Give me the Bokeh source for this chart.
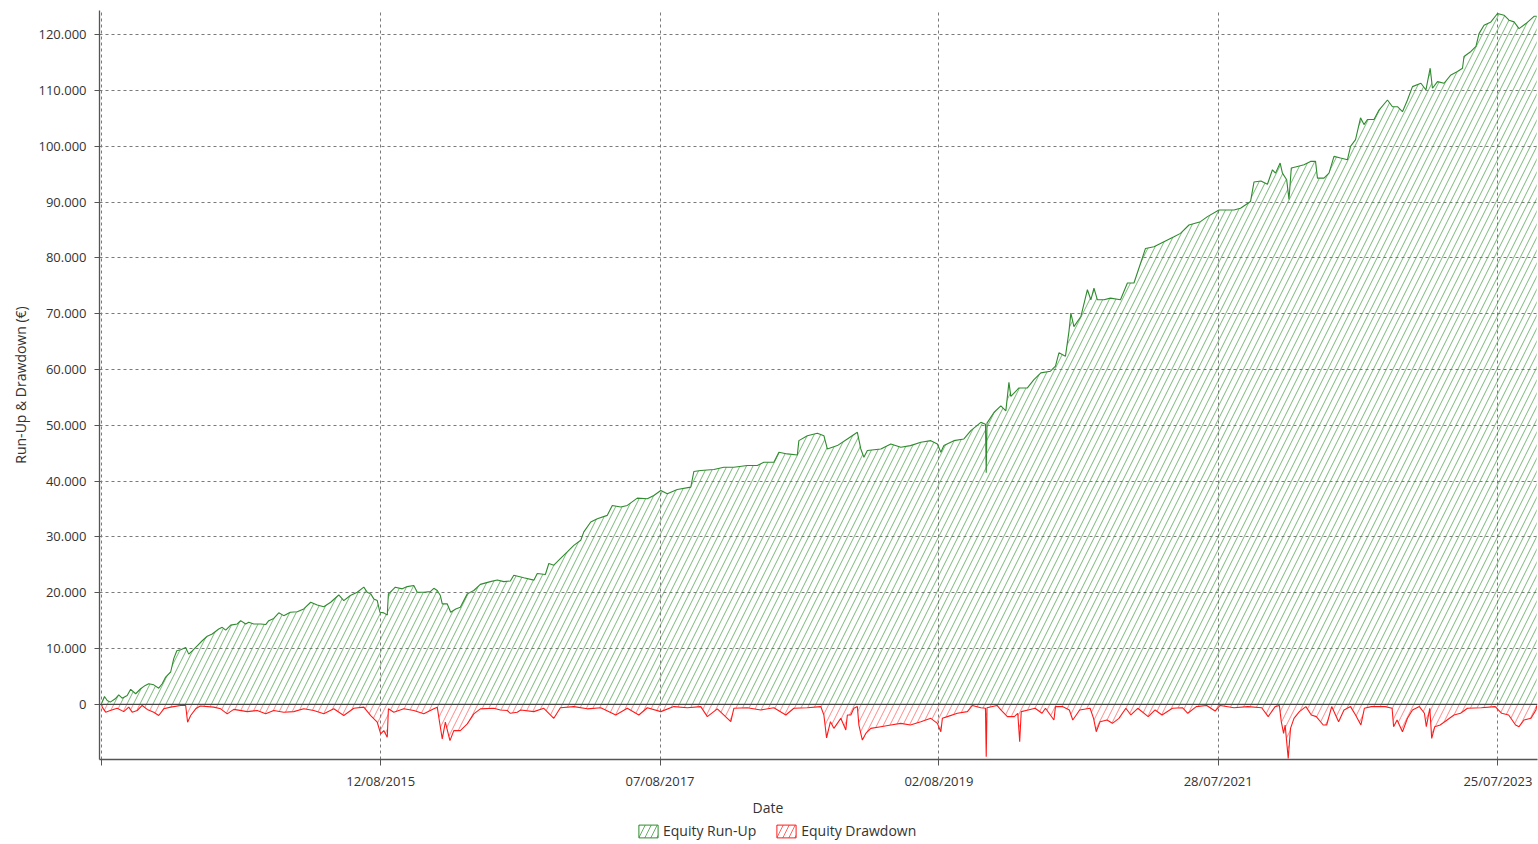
import pandas as pd
from bokeh.plotting import figure
from bokeh.layouts import column
from bokeh.models import (ColumnDataSource, Range1d, FixedTicker, Legend, LegendItem,
                          Span, Title)
from bokeh.embed import file_html
from bokeh.resources import INLINE

# ---------------- data ----------------
runup_dates = [
    "2013-08-17", "2013-08-24", "2013-08-31", "2013-09-08", "2013-09-21", "2013-09-30",
    "2013-10-09", "2013-10-22", "2013-10-31", "2013-11-13", "2013-11-26", "2013-12-08",
    "2013-12-17", "2013-12-30", "2014-01-12", "2014-01-21", "2014-01-30", "2014-02-12",
    "2014-02-20", "2014-02-28", "2014-03-10", "2014-03-23", "2014-03-31", "2014-04-09",
    "2014-04-22", "2014-05-05", "2014-05-18", "2014-05-31", "2014-06-17", "2014-06-26",
    "2014-07-05", "2014-07-18", "2014-08-04", "2014-08-13", "2014-08-26", "2014-09-03",
    "2014-09-16", "2014-10-04", "2014-10-17", "2014-10-25", "2014-11-07", "2014-11-20",
    "2014-12-03", "2014-12-20", "2015-01-07", "2015-01-24", "2015-02-11", "2015-02-28",
    "2015-03-17", "2015-04-04", "2015-04-25", "2015-05-08", "2015-05-25", "2015-06-12",
    "2015-06-29", "2015-07-08", "2015-07-17", "2015-07-25", "2015-08-03", "2015-08-10",
    "2015-08-20", "2015-08-29", "2015-09-01", "2015-09-06", "2015-09-19", "2015-10-07",
    "2015-10-20", "2015-11-06", "2015-11-15", "2015-12-02", "2015-12-19", "2015-12-28",
    "2016-01-06", "2016-01-14", "2016-01-19", "2016-02-01", "2016-02-10", "2016-02-23",
    "2016-03-06", "2016-03-24", "2016-04-10", "2016-04-27", "2016-05-23", "2016-06-10",
    "2016-06-27", "2016-07-14", "2016-07-23", "2016-08-18", "2016-09-13", "2016-09-22",
    "2016-10-13", "2016-10-22", "2016-11-04", "2016-11-21", "2016-12-09", "2016-12-26",
    "2017-01-13", "2017-01-21", "2017-02-08", "2017-02-25", "2017-03-23", "2017-04-05",
    "2017-04-27", "2017-05-14", "2017-06-09", "2017-07-05", "2017-07-22", "2017-08-09",
    "2017-08-26", "2017-09-21", "2017-10-26", "2017-11-03", "2017-11-21", "2017-12-25",
    "2018-01-20", "2018-02-15", "2018-03-22", "2018-04-17", "2018-05-04", "2018-05-30",
    "2018-06-12", "2018-07-04", "2018-07-30", "2018-08-03", "2018-08-25", "2018-09-20",
    "2018-10-07", "2018-10-16", "2018-11-11", "2018-12-07", "2019-01-02", "2019-01-11",
    "2019-01-19", "2019-01-28", "2019-03-04", "2019-03-30", "2019-04-25", "2019-05-20",
    "2019-06-16", "2019-07-12", "2019-07-29", "2019-08-07", "2019-08-15", "2019-09-10",
    "2019-10-06", "2019-10-24", "2019-11-19", "2019-12-01", "2019-12-03", "2019-12-05",
    "2019-12-23", "2020-01-10", "2020-01-23", "2020-01-31", "2020-02-05", "2020-02-26",
    "2020-03-19", "2020-04-05", "2020-04-23", "2020-05-18", "2020-05-31", "2020-06-09",
    "2020-06-26", "2020-07-05", "2020-07-10", "2020-07-18", "2020-08-05", "2020-08-22",
    "2020-08-31", "2020-09-08", "2020-09-17", "2020-10-04", "2020-10-21", "2020-11-16",
    "2020-12-04", "2020-12-21", "2021-01-07", "2021-01-20", "2021-02-11", "2021-03-09",
    "2021-04-04", "2021-04-21", "2021-05-13", "2021-06-12", "2021-06-30", "2021-07-30",
    "2021-08-21", "2021-09-07", "2021-09-24", "2021-10-20", "2021-10-29", "2021-11-16",
    "2021-12-03", "2021-12-16", "2021-12-24", "2022-01-05", "2022-01-11", "2022-01-22",
    "2022-01-28", "2022-02-03", "2022-02-19", "2022-03-08", "2022-03-25", "2022-04-07",
    "2022-04-12", "2022-04-29", "2022-05-12", "2022-05-25", "2022-06-11", "2022-06-29",
    "2022-07-07", "2022-07-20", "2022-08-02", "2022-08-11", "2022-08-20", "2022-09-06",
    "2022-09-19", "2022-10-11", "2022-10-24", "2022-11-06", "2022-11-19", "2022-12-02",
    "2022-12-15", "2023-01-06", "2023-01-19", "2023-01-30", "2023-02-05", "2023-02-18",
    "2023-03-07", "2023-03-25", "2023-04-11", "2023-04-24", "2023-04-28", "2023-05-16",
    "2023-05-29", "2023-06-06", "2023-06-19", "2023-07-07", "2023-07-24", "2023-08-10",
    "2023-08-23", "2023-09-05", "2023-09-18", "2023-10-06", "2023-10-27", "2023-11-03",
]
runup_values = [
    300, 1400, 700, 400, 1000, 1700,
    1100, 1600, 2700, 1900, 2800, 3400,
    3700, 3500, 2900, 3700, 4900, 5800,
    8200, 9600, 9800, 10200, 9000, 9600,
    10500, 11400, 12200, 12600, 13500, 13800,
    13300, 14200, 14400, 15000, 14400, 14700,
    14400, 14400, 14300, 15000, 15400, 16400,
    15900, 16500, 16600, 17100, 18300, 17800,
    17500, 18300, 19600, 18600, 19500, 20100,
    21000, 20100, 19800, 18900, 18600, 16500,
    16400, 16000, 19800, 20100, 21000, 20700,
    21100, 21300, 20100, 20100, 20200, 20800,
    20400, 19500, 18000, 18000, 16500, 17100,
    17400, 19800, 20400, 21500, 22000, 22300,
    22000, 22100, 23150, 22700, 22260, 23450,
    23270, 25240, 24940, 26130, 27320, 28500,
    29400, 30900, 32680, 33270, 33870, 35650,
    35360, 35650, 36960, 36840, 37440, 38330,
    37740, 38510, 38930, 41730, 41900, 42080,
    42500, 42500, 42800, 42800, 43390, 43390,
    45180, 44880, 44700, 47260, 48150, 48570,
    48150, 45770, 46370, 47560, 48750, 45770,
    44290, 45480, 45770, 46670, 46070, 46370,
    46960, 47260, 46670, 45180, 46370, 47260,
    47560, 49050, 50540, 50200, 41500, 50400,
    52300, 53500, 52600, 57700, 55200, 56700,
    56700, 58200, 59400, 59700, 60600, 63000,
    62400, 66800, 70100, 67700, 69500, 74300,
    72500, 74600, 72500, 72500, 72800, 72500,
    75500, 75500, 79000, 81700, 82000, 82900,
    83800, 84400, 85900, 86500, 87400, 88600,
    88600, 88600, 88900, 90100, 93600, 93800,
    93200, 95800, 95200, 97000, 95200, 94000,
    90500, 96100, 96400, 96700, 97300, 97300,
    94300, 94300, 95200, 98200, 97900, 97600,
    100000, 101200, 105100, 103900, 104800, 104800,
    106500, 108300, 107100, 107100, 106200, 108300,
    110700, 111300, 110100, 114000, 110400, 111600,
    111300, 112800, 113400, 114000, 116100, 117000,
    117900, 120200, 121700, 122300, 123800, 123500,
    122600, 122300, 121100, 122000, 123300, 123300,
]

drawdown_dates = [
    "2013-08-17", "2013-08-18", "2013-08-27", "2013-09-08", "2013-09-26", "2013-10-13",
    "2013-10-26", "2013-11-04", "2013-11-17", "2013-11-30", "2013-12-13", "2013-12-30",
    "2014-01-12", "2014-01-25", "2014-02-12", "2014-03-10", "2014-03-23", "2014-03-28",
    "2014-04-05", "2014-04-18", "2014-04-30", "2014-06-04", "2014-06-22", "2014-07-09",
    "2014-07-26", "2014-08-30", "2014-09-25", "2014-10-17", "2014-11-07", "2014-12-03",
    "2014-12-29", "2015-01-24", "2015-02-19", "2015-03-17", "2015-04-12", "2015-05-08",
    "2015-06-03", "2015-06-29", "2015-07-17", "2015-08-03", "2015-08-12", "2015-08-20",
    "2015-08-29", "2015-09-01", "2015-09-15", "2015-10-11", "2015-11-06", "2015-12-02",
    "2015-12-28", "2016-01-06", "2016-01-12", "2016-01-19", "2016-01-27", "2016-02-08",
    "2016-02-18", "2016-03-06", "2016-03-24", "2016-04-10", "2016-04-27", "2016-06-01",
    "2016-06-18", "2016-07-06", "2016-07-14", "2016-08-01", "2016-08-10", "2016-09-13",
    "2016-10-09", "2016-11-04", "2016-11-21", "2016-12-26", "2017-01-30", "2017-03-06",
    "2017-04-14", "2017-05-14", "2017-06-13", "2017-07-05", "2017-08-09", "2017-09-12",
    "2017-10-17", "2017-11-21", "2017-12-08", "2018-01-03", "2018-02-07", "2018-02-15",
    "2018-03-22", "2018-04-26", "2018-05-30", "2018-06-30", "2018-07-21", "2018-08-25",
    "2018-09-29", "2018-10-07", "2018-10-14", "2018-10-24", "2018-11-02", "2018-11-20",
    "2018-12-03", "2018-12-07", "2018-12-16", "2018-12-24", "2019-01-02", "2019-01-06",
    "2019-01-15", "2019-01-24", "2019-02-06", "2019-03-04", "2019-03-30", "2019-04-25",
    "2019-05-20", "2019-06-16", "2019-07-12", "2019-07-29", "2019-08-07", "2019-08-11",
    "2019-08-24", "2019-09-19", "2019-10-15", "2019-10-28", "2019-11-19", "2019-12-01",
    "2019-12-03", "2019-12-05", "2019-12-31", "2020-01-10", "2020-01-27", "2020-02-14",
    "2020-02-23", "2020-02-28", "2020-03-03", "2020-03-21", "2020-04-08", "2020-04-26",
    "2020-05-05", "2020-05-27", "2020-05-31", "2020-06-18", "2020-07-06", "2020-07-15",
    "2020-08-02", "2020-08-29", "2020-09-07", "2020-09-14", "2020-09-24", "2020-10-12",
    "2020-10-26", "2020-11-12", "2020-11-30", "2020-12-13", "2020-12-31", "2021-01-27",
    "2021-02-14", "2021-03-04", "2021-03-31", "2021-04-26", "2021-05-10", "2021-06-01",
    "2021-06-28", "2021-07-20", "2021-08-02", "2021-09-07", "2021-10-13", "2021-11-18",
    "2021-12-05", "2021-12-23", "2022-01-03", "2022-01-08", "2022-01-14", "2022-01-18",
    "2022-01-26", "2022-02-01", "2022-02-10", "2022-02-24", "2022-03-13", "2022-03-27",
    "2022-04-09", "2022-04-27", "2022-05-06", "2022-05-19", "2022-06-06", "2022-06-20",
    "2022-07-07", "2022-07-20", "2022-08-03", "2022-08-12", "2022-08-30", "2022-09-17",
    "2022-10-05", "2022-10-23", "2022-10-27", "2022-11-05", "2022-11-19", "2022-12-02",
    "2022-12-15", "2023-01-02", "2023-01-15", "2023-01-20", "2023-01-29", "2023-02-03",
    "2023-02-11", "2023-02-25", "2023-03-15", "2023-04-02", "2023-04-19", "2023-05-07",
    "2023-06-12", "2023-07-18", "2023-08-04", "2023-08-22", "2023-09-09", "2023-09-18",
    "2023-10-01", "2023-10-19", "2023-11-01", "2023-11-03",
]
drawdown_values = [
    0, -500, -1400, -1100, -700, -1300,
    -500, -1400, -1100, -200, -900, -1400,
    -2000, -800, -500, -200, -200, -3200,
    -2000, -800, -300, -500, -800, -1700,
    -900, -1300, -1100, -1700, -1100, -1400,
    -1300, -800, -1100, -1700, -800, -2000,
    -700, -500, -2000, -3200, -5300, -4700,
    -5900, -800, -1400, -800, -1100, -1700,
    -800, -500, -3200, -6200, -3200, -6500,
    -4700, -4700, -3500, -1700, -800, -700,
    -1000, -1100, -1600, -1400, -1000, -1300,
    -700, -2500, -600, -400, -800, -600,
    -1900, -700, -1900, -600, -1300, -400,
    -600, -400, -2200, -800, -3100, -700,
    -600, -1000, -600, -1900, -700, -600,
    -400, -1900, -6000, -3100, -4300, -2500,
    -4600, -1900, -1900, -700, -400, -3700,
    -6400, -5200, -4300, -4000, -3700, -3400,
    -3700, -3100, -2500, -3400, -4900, -2500,
    -2200, -1600, -1300, -200, -600, -700,
    -9400, -600, -200, -1000, -2200, -2200,
    -1600, -6700, -1300, -1000, -700, -1600,
    -700, -2800, -400, -400, -1000, -2800,
    -1000, -700, -2500, -4900, -3100, -2800,
    -3400, -2500, -700, -1900, -700, -2200,
    -1000, -1900, -700, -600, -1600, -400,
    -200, -1200, -200, -600, -400, -600,
    -2200, -400, -200, -3100, -5200, -3700,
    -9700, -4300, -2500, -1300, -400, -1900,
    -2200, -3700, -3700, -400, -3100, -1000,
    -400, -1900, -3700, -700, -400, -400,
    -400, -700, -4000, -2800, -4900, -2500,
    -1000, -400, -1600, -4000, -700, -6100,
    -4000, -3700, -2800, -1900, -1600, -700,
    -600, -400, -1600, -1900, -3700, -4000,
    -2800, -2500, -1000, -200,
]

series_names = ["Equity Run-Up", "Equity Drawdown"]
x_tick_dates = ["2013-08-17", "2015-08-12", "2017-08-07", "2019-08-02", "2021-07-28", "2023-07-25"]
x_tick_labels = ["", "12/08/2015", "07/08/2017", "02/08/2019", "28/07/2021", "25/07/2023"]
y_ticks = [0, 10000, 20000, 30000, 40000, 50000, 60000, 70000, 80000, 90000, 100000, 110000, 120000]
y_tick_labels = ["0", "10.000", "20.000", "30.000", "40.000", "50.000", "60.000", "70.000",
                 "80.000", "90.000", "100.000", "110.000", "120.000"]
x_axis_title = "Date"
y_axis_title = "Run-Up & Drawdown (€)"

# ---------------- styling ----------------
FONT = "Open Sans"
TEXT = "#333333"
GREEN = "#2e8b2e"
HATCH_GREEN = "#3f9a3f"
RED = "#ff1a1a"
HATCH_RED = "#ff3a3a"

runup_src = ColumnDataSource(dict(date=pd.to_datetime(runup_dates), value=runup_values,
                                  zero=[0] * len(runup_values)))
dd_src = ColumnDataSource(dict(date=pd.to_datetime(drawdown_dates), value=drawdown_values,
                               zero=[0] * len(drawdown_values)))

p = figure(width=1538, height=819, x_axis_type="datetime",
           output_backend="svg", toolbar_location=None,
           x_range=Range1d(pd.Timestamp("2013-08-11"), pd.Timestamp("2023-11-05")),
           y_range=Range1d(-9880, 124340),
           min_border_left=99, min_border_right=1, min_border_top=10, min_border_bottom=58)
p.outline_line_color = None
p.background_fill_color = "white"
p.border_fill_color = "white"

# areas (hatched, no solid fill)
p.varea(x="date", y1="zero", y2="value", source=runup_src, fill_alpha=0,
        hatch_pattern="right_diagonal_line", hatch_color=HATCH_GREEN, hatch_alpha=0.7,
        hatch_scale=13, hatch_weight=1)
p.varea(x="date", y1="zero", y2="value", source=dd_src, fill_alpha=0,
        hatch_pattern="right_diagonal_line", hatch_color=HATCH_RED, hatch_alpha=0.6,
        hatch_scale=13, hatch_weight=1)
p.line(x="date", y="value", source=runup_src, line_color=GREEN, line_width=1.1)
p.line(x="date", y="value", source=dd_src, line_color=RED, line_width=1.1)

p.add_layout(Span(location=0, dimension="width", line_color="#444444", line_width=1.2))

# axes
x_ms = [int(pd.Timestamp(d).value // 10**6) for d in x_tick_dates]
p.xaxis.ticker = FixedTicker(ticks=x_ms)
p.xaxis.major_label_overrides = {k: v for k, v in zip(x_ms, x_tick_labels)}
p.yaxis.ticker = FixedTicker(ticks=y_ticks)
p.yaxis.major_label_overrides = {k: v for k, v in zip(y_ticks, y_tick_labels)}

for ax in (p.xaxis[0], p.yaxis[0]):
    ax.axis_line_color = "#555555"
    ax.axis_line_width = 1.3
    ax.major_tick_line_color = "#555555"
    ax.major_tick_in = 0
    ax.major_tick_out = 6
    ax.minor_tick_line_color = None
    ax.major_label_text_font = FONT
    ax.major_label_text_font_size = "13px"
    ax.major_label_text_color = TEXT
    ax.axis_label_text_font = FONT
    ax.axis_label_text_font_size = "14px"
    ax.axis_label_text_font_style = "normal"
    ax.axis_label_text_color = TEXT

p.yaxis.major_tick_out = 5
p.yaxis.major_label_standoff = 8
p.yaxis.axis_label = y_axis_title
p.yaxis.axis_label_standoff = 5
p.xaxis.major_label_standoff = 6

for g in (p.xgrid[0], p.ygrid[0]):
    g.grid_line_color = "#7a7a7a"
    g.grid_line_dash = "3 3"
    g.grid_line_width = 1

# x axis title ("Date"), centred on the whole picture rather than on the frame
date_title = Title(text=x_axis_title, align="left", offset=653, standoff=6,
                   text_font=FONT, text_font_size="14px", text_font_style="normal",
                   text_color=TEXT)
p.add_layout(date_title, "below")

# ---------------- legend strip below the chart ----------------
q = figure(width=1538, height=25, output_backend="svg", toolbar_location=None,
           x_range=Range1d(0, 1), y_range=Range1d(0, 1),
           x_axis_location=None, y_axis_location=None, min_border=0)
q.outline_line_color = None
q.grid.visible = False
q.background_fill_color = "white"
q.border_fill_color = "white"

# swatch glyphs: one undefined (NaN) row each, so they only appear in the legend
nan = float("nan")
sw_src = ColumnDataSource(dict(l=[nan], r=[nan], t=[nan], b=[nan]))
sw_up = q.quad(left="l", right="r", top="t", bottom="b", source=sw_src, fill_alpha=0,
               line_color=GREEN, line_width=1, hatch_pattern="right_diagonal_line",
               hatch_color=HATCH_GREEN, hatch_alpha=0.8, hatch_scale=12, hatch_weight=1)
sw_dd = q.quad(left="l", right="r", top="t", bottom="b", source=sw_src, fill_alpha=0,
               line_color=RED, line_width=1, hatch_pattern="right_diagonal_line",
               hatch_color=HATCH_RED, hatch_alpha=0.8, hatch_scale=12, hatch_weight=1)

legend = Legend(items=[LegendItem(label=series_names[0], renderers=[sw_up]),
                       LegendItem(label=series_names[1], renderers=[sw_dd])],
                orientation="horizontal", location=(536, 3),
                glyph_width=24, glyph_height=16, label_standoff=3, spacing=18,
                padding=1, margin=0, label_height=16,
                label_text_font=FONT, label_text_font_size="14px", label_text_color=TEXT,
                background_fill_alpha=0, border_line_alpha=0)
q.add_layout(legend, "center")

layout = column(p, q, spacing=0)
open("out.html", "w").write(file_html(layout, INLINE))
